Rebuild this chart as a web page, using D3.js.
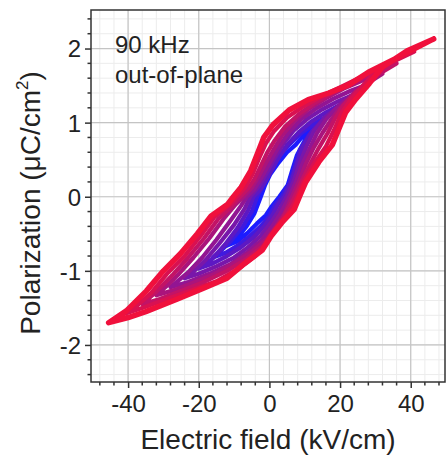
<!DOCTYPE html>
<html>
<head>
<meta charset="utf-8">
<script src="https://cdn.jsdelivr.net/npm/d3@7"></script>
<style>
  body { margin: 0; background: #fff; }
  text { font-family: "Liberation Sans", Arial, sans-serif; fill: #222; }
</style>
</head>
<body>
<div id="chart"></div>
<script>
// tick labels
var xTicks = [-40, -20, 0, 20, 40];
var yTicks = [-2, -1, 0, 1, 2];

// P-E loops, [E (kV/cm), P (uC/cm2)]
// upper branch from +Emax down to -Emax, then lower branch back up
var loop12 = [[12,0.92],[9.5,0.82],[7.4,0.7],[5,0.6],[2.6,0.46],[0.2,0.3],[-1.2,0.16],[-2.6,-0.02],[-4.2,-0.22],[-6.5,-0.4],[-9,-0.55],[-12,-0.66],
  [-9,-0.6],[-6,-0.48],[-3.5,-0.36],[-1,-0.25],[0.5,-0.14],[2.8,0],[5.2,0.16],[6.6,0.38],[7.8,0.56],[10,0.76],[12,0.92]];
var loop16 = [[16,1.08],[12.5,0.98],[9,0.86],[5.5,0.7],[3,0.56],[0.5,0.36],[-1.8,0.15],[-3.5,0],[-5,-0.2],[-7.5,-0.4],[-11,-0.6],[-13.5,-0.72],[-16,-0.82],
  [-12.5,-0.76],[-9,-0.66],[-5.5,-0.53],[-2.5,-0.4],[0,-0.26],[1.5,-0.12],[3.5,0],[5.7,0.18],[7.3,0.42],[8.7,0.64],[11,0.82],[13.5,0.96],[16,1.08]];
var loop20 = [[20,1.24],[16,1.14],[12,1.02],[8.5,0.88],[5,0.7],[2,0.48],[-0.5,0.26],[-2.5,0.1],[-4.5,0],[-6,-0.18],[-9,-0.42],[-12.5,-0.64],[-16,-0.83],[-20,-0.97],
  [-16,-0.9],[-12,-0.8],[-8,-0.68],[-4.5,-0.55],[-1.5,-0.4],[0.8,-0.25],[2.5,-0.1],[4.2,0],[6.2,0.2],[7.8,0.44],[9.5,0.68],[12,0.88],[15,1.03],[17.5,1.13],[20,1.24]];
var loop24 = [[24,1.38],[19.5,1.29],[15,1.18],[11,1.06],[7,0.9],[4,0.72],[1.2,0.5],[-1,0.3],[-3,0.14],[-5.45,0],[-7,-0.16],[-10,-0.38],[-14,-0.62],[-18,-0.85],[-21,-0.99],[-24,-1.1],
  [-20,-1.04],[-15,-0.94],[-10,-0.82],[-6,-0.68],[-2.5,-0.53],[0.3,-0.36],[2.5,-0.2],[4.9,0],[6.8,0.2],[8.5,0.44],[10.5,0.68],[12.5,0.88],[15.5,1.06],[19.5,1.22],[24,1.38]];
var loop28 = [[28,1.52],[23,1.43],[18,1.32],[13.5,1.2],[9,1.05],[5.5,0.87],[2.5,0.66],[0,0.45],[-2.2,0.26],[-4.3,0.1],[-6.4,0],[-8,-0.12],[-11,-0.32],[-15,-0.58],[-19,-0.82],[-23,-1.02],[-28,-1.22],
  [-23,-1.15],[-17,-1.04],[-11,-0.91],[-6.5,-0.76],[-2.5,-0.6],[0.5,-0.42],[3,-0.24],[5.65,0],[7.5,0.2],[9.3,0.44],[11.5,0.66],[13.5,0.86],[16,1.04],[19,1.2],[23,1.36],[28,1.52]];
var loop32 = [[32,1.66],[26.5,1.57],[21,1.46],[16,1.33],[11,1.18],[7,1.02],[3.5,0.82],[1,0.62],[-1.2,0.44],[-3,0.28],[-5,0.12],[-7.35,0],[-9.5,-0.1],[-13,-0.3],[-17,-0.56],[-21.5,-0.82],[-26,-1.06],[-29,-1.2],[-32,-1.33],
  [-27,-1.26],[-21,-1.15],[-15,-1.03],[-9.5,-0.88],[-5,-0.74],[-1,-0.58],[1.8,-0.4],[4.3,-0.22],[6.35,0],[8.3,0.2],[10.3,0.44],[12.5,0.66],[15,0.86],[17.5,1.04],[20,1.2],[23.5,1.36],[27.5,1.52],[32,1.66]];
var loop36 = [[36,1.8],[30,1.68],[24,1.55],[18.5,1.42],[13,1.27],[8.5,1.12],[4.5,0.95],[1.5,0.76],[-0.6,0.6],[-2.4,0.42],[-4.2,0.24],[-6.2,0.1],[-8.3,0],[-10.5,-0.12],[-14.5,-0.3],[-18.5,-0.56],[-23,-0.82],[-27.5,-1.06],[-32,-1.28],[-36,-1.45],
  [-31,-1.38],[-25,-1.27],[-18.5,-1.15],[-12,-1.0],[-6.5,-0.84],[-2,-0.67],[0.9,-0.48],[3.6,-0.3],[5.8,-0.12],[7.1,0],[9,0.2],[11.5,0.44],[14,0.66],[16.5,0.86],[18.5,1.05],[21,1.24],[24.5,1.42],[29,1.6],[36,1.8]];
var loop41 = [[41,1.96],[34,1.8],[27,1.64],[21,1.5],[15,1.36],[10,1.23],[5,1.07],[1.2,0.88],[-1,0.72],[-2.9,0.52],[-4.8,0.3],[-7,0.12],[-9.25,0],[-11,-0.1],[-15.5,-0.27],[-19.5,-0.53],[-24,-0.8],[-29,-1.04],[-33.5,-1.3],[-37.5,-1.47],[-41,-1.58],
  [-36,-1.5],[-29,-1.38],[-22,-1.26],[-15,-1.14],[-9,-0.98],[-4,-0.8],[-0.8,-0.62],[2,-0.42],[5,-0.24],[6.6,-0.12],[7.8,0],[9.6,0.2],[12.8,0.46],[16,0.68],[18.3,0.9],[20.3,1.12],[22.8,1.3],[26.5,1.5],[30,1.68],[35,1.84],[41,1.96]];
var loop47 = [[46.5,2.13],[35.5,1.86],[28,1.68],[22.5,1.51],[16.8,1.4],[11,1.31],[5.6,1.17],[1,0.97],[-1.6,0.8],[-3.4,0.58],[-5.3,0.35],[-8,0.13],[-10.2,0],[-11.8,-0.1],[-16.5,-0.26],[-20.4,-0.5],[-25.2,-0.77],[-30,-1.0],[-34.8,-1.27],[-40.5,-1.54],[-45.5,-1.7],
  [-40,-1.63],[-35,-1.55],[-26,-1.38],[-19,-1.24],[-12,-1.1],[-7,-0.9],[-2,-0.72],[0.5,-0.53],[3.5,-0.35],[7,-0.17],[8.5,0],[10.3,0.2],[14,0.47],[17.8,0.7],[19.7,0.92],[21.6,1.14],[24.5,1.32],[28.3,1.53],[32,1.75],[39,1.97],[46.5,2.13]];

var loops = [loop12, loop16, loop20, loop24, loop28, loop32, loop36, loop41, loop47];

var W = 446, H = 456;
var pL = 91, pR = 445, pT = 10, pB = 382;

var svg = d3.select('#chart').append('svg')
  .attr('width', W)
  .attr('height', H);

var x = d3.scaleLinear().domain([-50.5, 49.7]).range([pL, pR]);
var y = d3.scaleLinear().domain([-2.5, 2.52]).range([pB, pT]);

var xMinor = d3.range(-48, 50, 4);
var yMinor = d3.range(-24, 26, 2).map(function(d) { return d / 10; });

// grid
var grid = svg.append('g');
grid.selectAll('.gxm').data(xMinor).enter().append('line')
  .attr('x1', d => x(d)).attr('x2', d => x(d))
  .attr('y1', pT).attr('y2', pB)
  .attr('stroke', '#ececec').attr('stroke-width', 1);
grid.selectAll('.gym').data(yMinor).enter().append('line')
  .attr('x1', pL).attr('x2', pR)
  .attr('y1', d => y(d)).attr('y2', d => y(d))
  .attr('stroke', '#ececec').attr('stroke-width', 1);
grid.selectAll('.gx').data(xTicks).enter().append('line')
  .attr('x1', d => x(d)).attr('x2', d => x(d))
  .attr('y1', pT).attr('y2', pB)
  .attr('stroke', '#c4c4c4').attr('stroke-width', 1.2);
grid.selectAll('.gy').data(yTicks).enter().append('line')
  .attr('x1', pL).attr('x2', pR)
  .attr('y1', d => y(d)).attr('y2', d => y(d))
  .attr('stroke', '#c4c4c4').attr('stroke-width', 1.2);

// loops, small (blue) first, large (red) on top
var blueToRed = d3.interpolateRgb('#1c1cff', '#f0103c');
var color = function(i) { return blueToRed(Math.pow(i / (loops.length - 1), 0.85)); };

var line = d3.line()
  .x(d => x(d[0]))
  .y(d => y(d[1]))
  .curve(d3.curveLinear);

svg.append('g').selectAll('path')
  .data(loops)
  .enter()
  .append('path')
  .attr('d', d => line(d))
  .attr('fill', 'none')
  .attr('stroke', (d, i) => color(i))
  .attr('stroke-width', (d, i) => i === loops.length - 1 ? 5.5 : 4.2)
  .attr('stroke-linejoin', 'round')
  .attr('stroke-linecap', 'round');

// frame
svg.append('rect')
  .attr('x', pL).attr('y', pT)
  .attr('width', pR - pL).attr('height', pB - pT)
  .attr('fill', 'none').attr('stroke', '#333').attr('stroke-width', 1.5);

// axes
var fmt = function(d) { return String(d); };
var xAxis = d3.axisBottom(x).tickValues(xTicks).tickSize(6).tickPadding(6).tickFormat(fmt);
var yAxis = d3.axisLeft(y).tickValues(yTicks).tickSize(6).tickPadding(4).tickFormat(fmt);

var gx = svg.append('g').attr('transform', 'translate(0,' + pB + ')').call(xAxis);
var gy = svg.append('g').attr('transform', 'translate(' + pL + ',0)').call(yAxis);
[gx, gy].forEach(function(g) {
  g.select('.domain').remove();
  g.selectAll('line').attr('stroke', '#333').attr('stroke-width', 1.5);
  g.selectAll('text').style('font-size', '24px').attr('fill', '#222')
    .style('font-family', '"Liberation Sans", Arial, sans-serif');
});
gx.selectAll('text').attr('dy', '0.75em');
gy.selectAll('text').attr('dy', '0.35em');

// minor ticks
svg.append('g').selectAll('line').data(xMinor.filter(d => xTicks.indexOf(d) < 0)).enter().append('line')
  .attr('x1', d => x(d)).attr('x2', d => x(d))
  .attr('y1', pB).attr('y2', pB + 3.5)
  .attr('stroke', '#333').attr('stroke-width', 1.5);
svg.append('g').selectAll('line').data(yMinor.filter(d => Math.abs(d * 10 % 10) > 0.01)).enter().append('line')
  .attr('x1', pL - 3.5).attr('x2', pL)
  .attr('y1', d => y(d)).attr('y2', d => y(d))
  .attr('stroke', '#333').attr('stroke-width', 1.5);

// axis titles
svg.append('text')
  .attr('x', 268).attr('y', 449)
  .attr('text-anchor', 'middle')
  .style('font-size', '28px')
  .text('Electric field (kV/cm)');

var yt = svg.append('text')
  .attr('transform', 'translate(40,203) rotate(-90)')
  .attr('text-anchor', 'middle')
  .style('font-size', '28px');
yt.append('tspan').text('Polarization (\u03bcC/cm');
yt.append('tspan').attr('dy', -12).style('font-size', '17px').text('2');
yt.append('tspan').attr('dy', 12).text(')');

// annotation
svg.append('text').attr('x', 115).attr('y', 53).style('font-size', '24px').text('90 kHz');
svg.append('text').attr('x', 115).attr('y', 83).style('font-size', '24px').text('out-of-plane');
</script>
</body>
</html>
